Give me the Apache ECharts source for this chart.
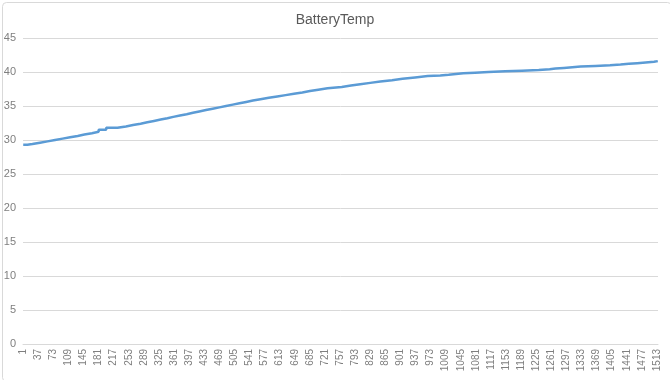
<!DOCTYPE html>
<html><head><meta charset="utf-8">
<script src="https://cdn.jsdelivr.net/npm/echarts@6/dist/echarts.min.js"></script>
<style>html,body{margin:0;padding:0;background:#fff}#c{width:670px;height:380px}</style>
</head><body><div id="c"></div>
<script>
// Chart title and axis settings
const chartTitle = "BatteryTemp";
const pointCount = 1515;          // number of samples (categories 1..N)
const yTicks = [0, 5, 10, 15, 20, 25, 30, 35, 40, 45];
// Temperature readings as run-length steps: [first sample index, value held from there]
const stepStarts = [0,10,22,40,58,76,94,112,130,146,164,180,198,225,245,262,280,296,312,328,344,358,374,390,405,420,436,452,468,484,500,516,532,548,566,586,606,626,646,666,684,704,726,760,782,804,828,852,880,905,935,965,995,1015,1050,1078,1110,1150,1190,1230,1256,1270,1290,1330,1365,1400,1425,1445,1465,1485,1505,1514];
const stepValues = [29.3,29.4,29.6,29.8,30.0,30.2,30.4,30.6,30.8,31.0,31.2,31.5,31.8,32.0,32.2,32.4,32.6,32.8,33.0,33.2,33.4,33.6,33.8,34.0,34.2,34.4,34.6,34.8,35.0,35.2,35.4,35.6,35.8,36.0,36.2,36.4,36.6,36.8,37.0,37.2,37.4,37.6,37.8,38.0,38.2,38.4,38.6,38.8,39.0,39.2,39.4,39.5,39.6,39.8,39.9,40.0,40.1,40.2,40.3,40.4,40.5,40.6,40.8,40.9,41.0,41.1,41.2,41.3,41.4,41.5,41.6,41.6];

const categories = [];
for (let i = 1; i <= pointCount; i++) categories.push(String(i));
const seriesData = stepStarts.map((s, i) => [s, stepValues[i]]);

const chart = echarts.init(document.getElementById('c'), null, {renderer: 'canvas'});
chart.setOption({
  animation: false,
  backgroundColor: '#fff',
  textStyle: {fontFamily: 'Liberation Sans, Arial, sans-serif'},
  title: {
    text: chartTitle, left: 'center', top: 8,
    textStyle: {fontSize: 14, fontWeight: 'normal', color: '#595959', fontFamily: 'Liberation Sans, Arial, sans-serif'}
  },
  graphic: [{
    type: 'rect', left: 0, top: 0, silent: true,
    shape: {x: 0.5, y: 0.5, width: 669, height: 379, r: 4},
    style: {fill: 'none', stroke: '#d9d9d9', lineWidth: 1}
  }],
  grid: {left: 23, right: 12, top: 38, bottom: 36, containLabel: false},
  xAxis: {
    type: 'category', data: categories, boundaryGap: true,
    axisLine: {show: true, lineStyle: {color: '#d9d9d9'}},
    axisTick: {show: false},
    axisLabel: {interval: 35, rotate: 90, fontSize: 10, color: '#7f7f7f', margin: 5}
  },
  yAxis: {
    type: 'value', min: yTicks[0], max: yTicks[yTicks.length - 1], interval: 5,
    axisLine: {show: false}, axisTick: {show: false},
    axisLabel: {fontSize: 11, color: '#7f7f7f', margin: 7},
    splitLine: {lineStyle: {color: '#d9d9d9', width: 1}}
  },
  series: [{
    type: 'line', data: seriesData, step: 'end', showSymbol: false,
    lineStyle: {color: '#5b9bd5', width: 2.5}, itemStyle: {color: '#5b9bd5'}
  }]
});
</script></body></html>
